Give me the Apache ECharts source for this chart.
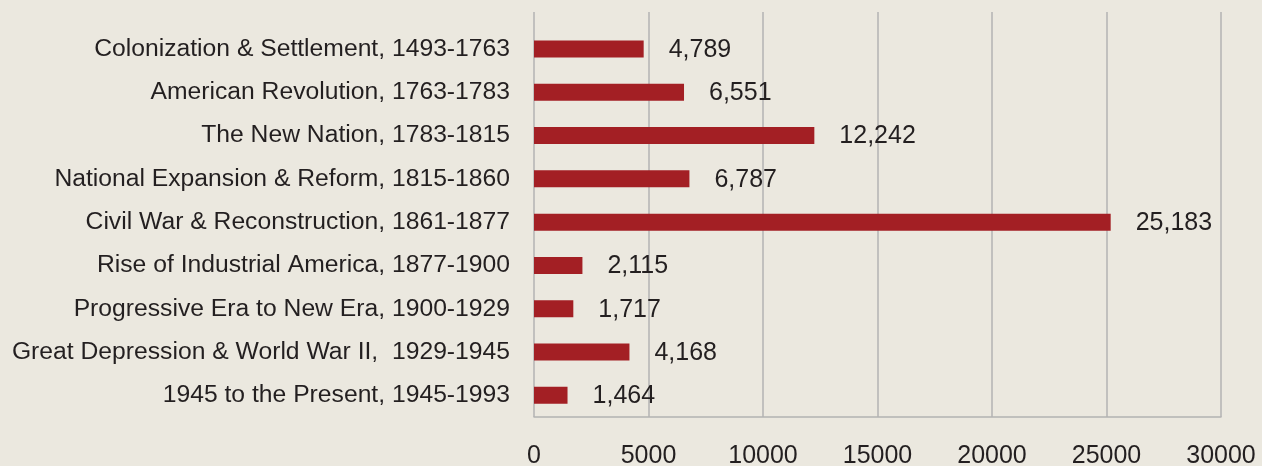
<!DOCTYPE html>
<html>
<head>
<meta charset="utf-8">
<script src="https://cdn.jsdelivr.net/npm/echarts@6/dist/echarts.min.js"></script>
<style>
html,body{margin:0;padding:0;background:#ebe8df;}
#c{width:1262px;height:466px;}
</style>
</head>
<body>
<div id="c"></div>
<script>
const categories = [
  "Colonization & Settlement, 1493-1763",
  "American Revolution, 1763-1783",
  "The New Nation, 1783-1815",
  "National Expansion & Reform, 1815-1860",
  "Civil War & Reconstruction, 1861-1877",
  "Rise of Industrial America, 1877-1900",
  "Progressive Era to New Era, 1900-1929",
  "Great Depression & World War II,  1929-1945",
  "1945 to the Present, 1945-1993"
];
const values = [4789, 6551, 12242, 6787, 25183, 2115, 1717, 4168, 1464];
const axisMin = 0, axisMax = 30000, axisStep = 5000;

const FONT = "Liberation Sans";
const TXT = "#231f20";
const chart = echarts.init(document.getElementById('c'), null, {renderer:'canvas'});
chart.setOption({
  backgroundColor: '#ebe8df',
  animation: false,
  grid: [
    {left: 534, right: 41, top: 12, bottom: 49, outerBoundsMode: 'none'},
    {left: 534, right: 41, top: 27.3, bottom: 49, outerBoundsMode: 'none'}
  ],
  xAxis: [
    {gridIndex: 0, type: 'value', min: axisMin, max: axisMax, interval: axisStep,
     axisLine: {show: true, lineStyle: {color: '#b3b3b3', width: 1.5}},
     axisTick: {show: false},
     splitLine: {show: true, lineStyle: {color: '#b3b3b3', width: 1.5}},
     axisLabel: {color: TXT, fontFamily: FONT, fontSize: 25, margin: 27,
       formatter: v => String(v)}},
    {gridIndex: 1, type: 'value', min: axisMin, max: axisMax, interval: axisStep, show: false,
     splitLine: {show: false}}
  ],
  yAxis: [
    {gridIndex: 0, type: 'category', data: [''], show: false},
    {gridIndex: 1, type: 'category', data: categories, inverse: true,
     axisLine: {show: false}, axisTick: {show: false},
     axisLabel: {color: TXT, fontFamily: FONT, fontSize: 24.7, margin: 24}}
  ],
  series: [{
    type: 'bar', xAxisIndex: 1, yAxisIndex: 1,
    data: values, barWidth: 17,
    itemStyle: {color: '#a31f24'},
    label: {show: true, position: 'right', distance: 25, color: TXT, fontFamily: FONT, fontSize: 25,
      offset: [0, 1],
      formatter: p => p.value.toLocaleString('en-US')}
  }]
});
</script>
</body>
</html>
